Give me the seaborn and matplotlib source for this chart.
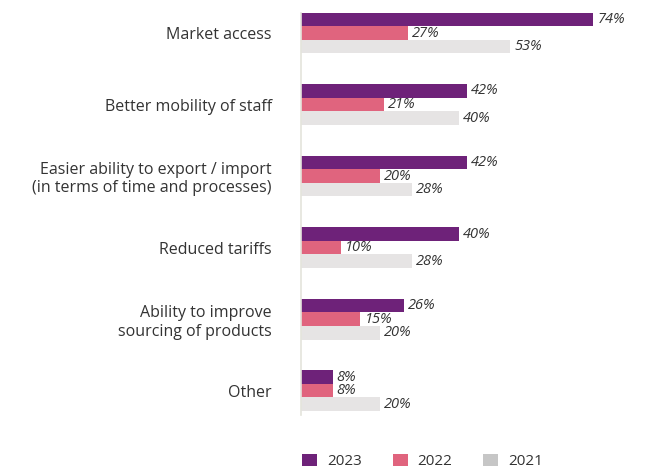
import matplotlib
matplotlib.use("Agg")
import matplotlib.pyplot as plt
from matplotlib.patches import Patch
import seaborn as sns
import pandas as pd

categories = [
    "Market access",
    "Better mobility of staff",
    "Easier ability to export / import\n(in terms of time and processes)",
    "Reduced tariffs",
    "Ability to improve\nsourcing of products",
    "Other",
]
years = ["2023", "2022", "2021"]
values_2023 = [74, 42, 42, 40, 26, 8]
values_2022 = [27, 21, 20, 10, 15, 8]
values_2021 = [53, 40, 28, 28, 20, 20]

bar_colors = ["#6E2279", "#E0647E", "#E6E4E4"]
legend_colors = ["#6E2279", "#E0647E", "#C6C6C6"]

rows = []
for year, vals in zip(years, [values_2023, values_2022, values_2021]):
    for cat, v in zip(categories, vals):
        rows.append({"category": cat, "year": year, "value": v})
df = pd.DataFrame(rows)

sns.set_theme(style="white")
plt.rcParams["font.family"] = ["Open Sans", "DejaVu Sans"]

fig = plt.figure(figsize=(6.49, 4.69), dpi=100)
ax = fig.add_axes([301 / 649, 54 / 469, 316 / 649, 402 / 469])

sns.barplot(
    data=df, y="category", x="value", hue="year", hue_order=years,
    order=categories, palette=bar_colors, orient="h", width=0.57,
    saturation=1, linewidth=0, legend=False, ax=ax,
)

for container in ax.containers:
    ax.bar_label(container, fmt="{:.0f}%", padding=3, fontsize=10.5,
                 fontstyle="italic", color="#333333", clip_on=False)

ax.set_xlim(0, 80)
ax.set_ylim(5.34, -0.28)
ax.set_xlabel("")
ax.set_ylabel("")
ax.set_xticks([])
for side in ["top", "right", "bottom"]:
    ax.spines[side].set_visible(False)
ax.spines["left"].set_color("#E4E4DC")
ax.spines["left"].set_linewidth(1.2)
ax.tick_params(axis="y", length=0, pad=21, labelsize=11.5, labelcolor="#333333")
for lbl in ax.get_yticklabels():
    lbl.set_horizontalalignment("right")

handles = [Patch(facecolor=c, edgecolor="none") for c in legend_colors]
fig.legend(
    handles, years, loc="lower left", bbox_to_anchor=(302 / 649, 0.0),
    ncol=3, frameon=False, fontsize=11, handlelength=1.0, handleheight=0.8,
    handletextpad=0.65, columnspacing=2.0, borderpad=0.0, borderaxespad=0.0,
    labelcolor="#333333",
)

fig.savefig("out.png", dpi=100)
